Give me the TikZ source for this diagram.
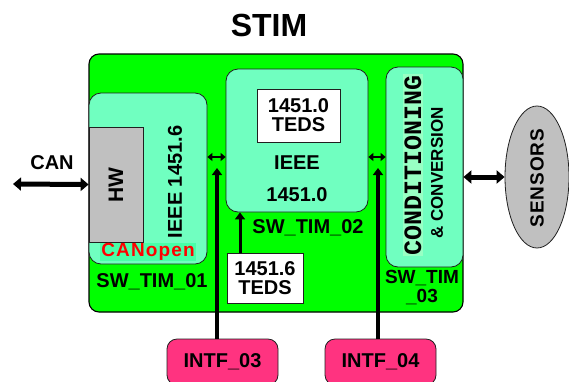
\documentclass[tikz,border=0pt]{standalone}
\usepackage{fontspec}
\setmainfont{Liberation Sans}
\newfontfamily\monofont{Liberation Mono}
\usepackage{tikz}
\usetikzlibrary{arrows.meta, positioning, calc, shapes.geometric}
\definecolor{stimgreen}{HTML}{00FF00}
\definecolor{timaqua}{HTML}{70FFC0}
\definecolor{hwgrey}{HTML}{C0C0C0}
\definecolor{intfpink}{HTML}{FF3380}
\definecolor{canbg}{HTML}{48FFA8}
\definecolor{condbg}{HTML}{98FFC4}
\definecolor{edge}{HTML}{202020}
\newcommand{\pxfont}[1]{\fontsize{#1}{#1}\selectfont\bfseries}
\tikzset{
  stimbox/.style={draw=black, fill=stimgreen, line width=1.1pt, rounded corners=10pt},
  timbox/.style={draw=edge, fill=timaqua, line width=0.8pt, rounded corners=12pt},
  tedsbox/.style={draw=edge, fill=white, line width=0.8pt, align=center,
    font=\pxfont{20}, inner sep=0pt},
  intfbox/.style={draw=edge, fill=intfpink, line width=0.8pt, rounded corners=10pt,
    font=\pxfont{20}},
  lab/.style={font=\pxfont{#1}, inner sep=0pt, align=center},
  lab/.default=19,
  bigarr/.style={{Triangle[length=8pt,width=13pt]}-{Triangle[length=8pt,width=13pt]},
    line width=5pt},
  busarr/.style={-{Triangle[length=7pt,width=10pt]}, line width=4pt},
  smallarr/.style={{Triangle[length=5pt,width=8pt]}-{Triangle[length=5pt,width=8pt]},
    line width=2pt}
}
\begin{document}
\begin{tikzpicture}[x=1pt,y=-1pt]
  \useasboundingbox (0,0) rectangle (569,381);
  % outer STIM block
  \node[lab=32] (title) at (269,25) {STIM};
  \node[stimbox, minimum width=374pt, minimum height=258pt] (stim) at (276,183) {};
  % SW_TIM_01
  \node[timbox, minimum width=118pt, minimum height=171pt] (tim1) at (148,178.5) {};
  \node[draw=edge, fill=hwgrey, line width=0.8pt, minimum width=54pt, minimum height=115pt]
    (hw) at (116,184.5) {};
  \node[lab=21, rotate=90] (hwtext) at (116,185) {HW};
  \node[lab=20, rotate=90] (ieee6) at (175,182) {IEEE 1451.6};
  \node[fill=canbg, text=red, font=\pxfont{19}\addfontfeature{LetterSpace=6},
    inner xsep=1pt, inner ysep=0pt, minimum height=16pt] (canopen) at (148,252) {CANopen};
  \node[lab=20] (tim1lab) at (152,282) {SW\_TIM\_01};
  % SW_TIM_02
  \node[timbox, minimum width=142pt, minimum height=143pt] (tim2) at (297,140.5) {};
  \node[tedsbox, minimum width=83pt, minimum height=53pt] (teds0) at (298.5,115.5)
    {1451.0\\[-1pt]TEDS};
  \node[lab=20] (ieee0a) at (297,163) {IEEE};
  \node[lab=20] (ieee0b) at (297,195) {1451.0};
  \node[lab=20] (tim2lab) at (308,228) {SW\_TIM\_02};
  \node[tedsbox, minimum width=76pt, minimum height=50pt] (teds6) at (265,278)
    {1451.6\\[-1pt]TEDS};
  % SW_TIM_03
  \node[timbox, minimum width=77pt, minimum height=200pt] (tim3) at (424.5,167) {};
  \node[fill=condbg, rotate=90, font=\monofont\fontsize{25}{25}\selectfont\bfseries,
    inner xsep=1pt, inner ysep=2pt] (cond) at (413,165) {CONDITIONING};
  \node[lab=17, rotate=90] (conv) at (437,173) {\& CONVERSION};
  \node[lab] (tim3lab) at (422,288) {SW\_TIM\\\_03};
  % outside
  \node[draw=edge, fill=hwgrey, ellipse, line width=0.8pt, minimum width=64pt,
    minimum height=142pt, inner sep=0pt] (sensors) at (537,177) {};
  \node[lab, rotate=90, font=\pxfont{19}\addfontfeature{LetterSpace=5}] (senstext)
    at (537,178) {SENSORS};
  \node[intfbox, minimum width=111pt, minimum height=46pt] (intf3) at (222.5,362) {INTF\_03};
  \node[intfbox, minimum width=111pt, minimum height=46pt] (intf4) at (380.5,362) {INTF\_04};
  \node[lab=20] (canlab) at (52,163) {CAN};
  % connectors
  \coordinate (canend) at (13,184);
  \coordinate (busy) at (0,157);
  \coordinate (bus1) at (217,168);
  \coordinate (bus2) at (378,168);
  \draw[bigarr] (canend) -- (hw.west);
  \draw[bigarr] (tim3.east |- sensors) -- (sensors.west);
  \draw[smallarr] (tim1.east |- busy) -- (tim2.west |- busy);
  \draw[smallarr] (tim2.east |- busy) -- (tim3.west |- busy);
  \draw[busarr] (intf3.north -| bus1) -- (bus1);
  \draw[busarr] (intf4.north -| bus2) -- (bus2);
  \draw[busarr, line width=3pt] ([xshift=-25pt]teds6.north) -- ([xshift=-25pt]teds6.north |- tim2.south);
\end{tikzpicture}
\end{document}
